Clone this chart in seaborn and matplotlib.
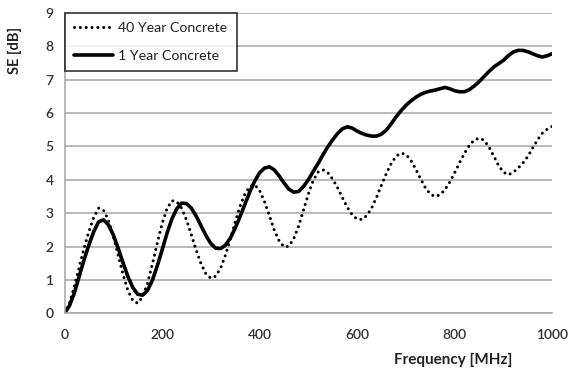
import matplotlib
matplotlib.use("Agg")
import matplotlib.pyplot as plt
import seaborn as sns
import pandas as pd

freq_mhz = list(range(0, 1001, 10))

se_40_year = [0.00, 0.30, 0.80, 1.38, 1.95, 2.45, 2.88, 3.15, 3.09, 2.79,
              2.31, 1.74, 1.16, 0.68, 0.38, 0.30, 0.49, 0.89, 1.46, 2.09,
              2.68, 3.13, 3.37, 3.35, 3.15, 2.80, 2.36, 1.89, 1.48, 1.18,
              1.05, 1.11, 1.35, 1.74, 2.22, 2.73, 3.21, 3.58, 3.80, 3.85,
              3.68, 3.35, 2.93, 2.50, 2.17, 1.99, 2.01, 2.23, 2.61, 3.09,
              3.57, 3.98, 4.23, 4.30, 4.21, 4.02, 3.76, 3.46, 3.17, 2.95,
              2.82, 2.81, 2.93, 3.16, 3.48, 3.84, 4.19, 4.49, 4.71, 4.80,
              4.76, 4.59, 4.33, 4.03, 3.76, 3.57, 3.50, 3.55, 3.70, 3.93,
              4.21, 4.51, 4.79, 5.03, 5.19, 5.25, 5.19, 4.99, 4.72, 4.43,
              4.23, 4.15, 4.22, 4.35, 4.50, 4.70, 4.95, 5.20, 5.40, 5.52,
              5.60]

se_1_year = [0.00, 0.22, 0.60, 1.10, 1.60, 2.05, 2.45, 2.74, 2.80, 2.65,
             2.35, 1.95, 1.51, 1.10, 0.77, 0.57, 0.54, 0.68, 0.98, 1.41,
             1.89, 2.39, 2.82, 3.13, 3.30, 3.29, 3.15, 2.91, 2.62, 2.33,
             2.09, 1.95, 1.94, 2.04, 2.25, 2.55, 2.90, 3.27, 3.64, 3.96,
             4.21, 4.35, 4.39, 4.30, 4.12, 3.91, 3.72, 3.63, 3.65, 3.80,
             4.00, 4.25, 4.49, 4.75, 4.99, 5.20, 5.39, 5.53, 5.59, 5.55,
             5.46, 5.39, 5.34, 5.31, 5.31, 5.37, 5.49, 5.68, 5.89, 6.07,
             6.23, 6.36, 6.47, 6.56, 6.62, 6.66, 6.69, 6.73, 6.77, 6.73,
             6.67, 6.64, 6.64, 6.70, 6.81, 6.94, 7.09, 7.24, 7.38, 7.48,
             7.58, 7.72, 7.83, 7.88, 7.88, 7.84, 7.78, 7.72, 7.68, 7.72,
             7.78]

series_names = ["40 Year Concrete", "1 Year Concrete"]
x_ticks = [0, 200, 400, 600, 800, 1000]
y_ticks = list(range(0, 10))

df40 = pd.DataFrame({"f": freq_mhz, "se": se_40_year})
df1 = pd.DataFrame({"f": freq_mhz, "se": se_1_year})

sns.set_style("white")
plt.rcParams["font.family"] = ["Lato", "DejaVu Sans"]

fig = plt.figure(figsize=(5.71, 3.72), dpi=100)
ax = fig.add_axes([0.113, 0.158, 0.854, 0.807])

sns.lineplot(data=df40, x="f", y="se", ax=ax, color="black", lw=2.2,
             linestyle=(0, (0.01, 1.9)), dash_capstyle="round",
             label=series_names[0])
sns.lineplot(data=df1, x="f", y="se", ax=ax, color="black", lw=2.6,
             label=series_names[1])

ax.set_xlim(0, 1000)
ax.set_ylim(0, 9)
ax.set_xticks(x_ticks)
ax.set_yticks(y_ticks)
ax.yaxis.grid(True, color="#a6a6a6", lw=1.1)
ax.set_axisbelow(True)
for s in ["top", "right"]:
    ax.spines[s].set_visible(False)
for s in ["left", "bottom"]:
    ax.spines[s].set_color("#a6a6a6")
    ax.spines[s].set_linewidth(1.1)
ax.tick_params(axis="both", which="major", direction="out", length=4,
               width=1.1, color="#a6a6a6", labelsize=10, labelcolor="#333333")
ax.tick_params(axis="x", pad=7)
ax.tick_params(axis="y", pad=4)
for lab in ax.get_xticklabels() + ax.get_yticklabels():
    lab.set_fontweight("semibold")

ax.set_xlabel("")
ax.set_ylabel("")
fig.text(0.793, 0.032, "Frequency [MHz]", ha="center", va="center",
         fontsize=11, fontweight="bold", color="#222222")
fig.text(0.027, 0.865, "SE [dB]", ha="center", va="center", rotation=90,
         fontsize=10.5, fontweight="bold", color="#222222")

leg = ax.legend(loc="upper left", frameon=True, fancybox=False,
                borderaxespad=0.0, fontsize=10.2, handlelength=2.8,
                handletextpad=0.35, borderpad=0.65, labelspacing=1.1)
leg.get_frame().set_edgecolor("black")
leg.get_frame().set_linewidth(1.2)
for t in leg.get_texts():
    t.set_color("#222222")

fig.savefig("out.png", dpi=100)
